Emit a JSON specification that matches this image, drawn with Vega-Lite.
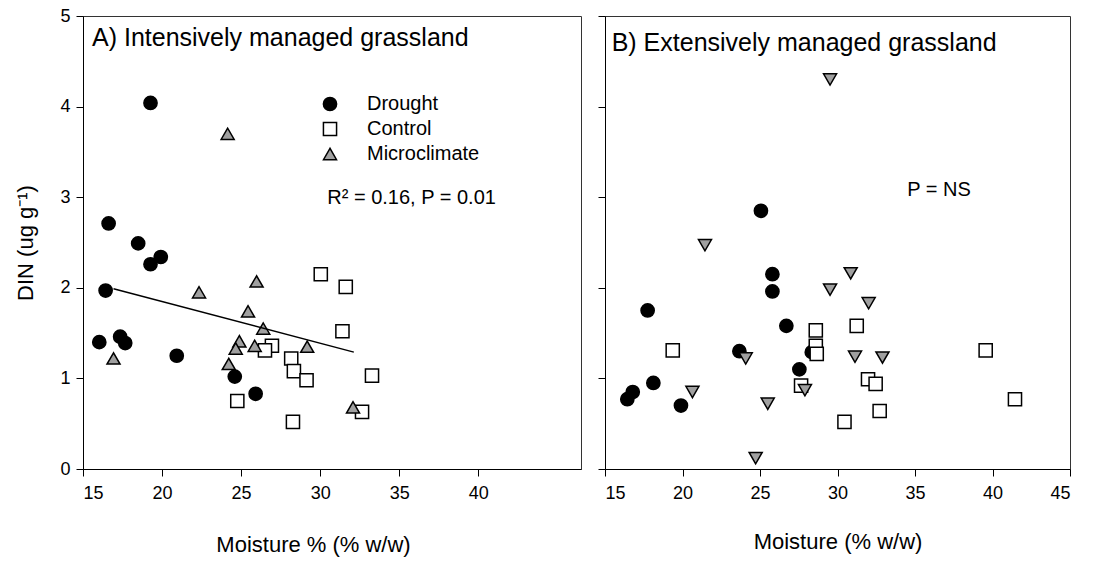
{
  "$schema": "https://vega.github.io/schema/vega-lite/v6.json",
  "background": "white",
  "padding": {"left": 14, "top": 6, "right": 5, "bottom": 2},
  "spacing": 15,
  "config": {
    "font": "Liberation Sans",
    "view": {"stroke": "#333333", "strokeWidth": 1},
    "axis": {
      "grid": false,
      "labelFont": "Liberation Sans",
      "labelFontSize": 18,
      "labelColor": "black",
      "tickColor": "black",
      "domainColor": "black",
      "tickSize": 7,
      "titleFont": "Liberation Sans",
      "titleFontSize": 22,
      "titleFontWeight": "normal",
      "titleColor": "black"
    }
  },
  "resolve": {"scale": {"shape": "independent", "fill": "independent", "size": "independent"}},
  "hconcat": [
    {
      "width": 498,
      "height": 453,
      "layer": [
        {
          "data": {"values": [
            {"x": 19.27, "y": 4.04, "treatment": "Drought"},
            {"x": 16.62, "y": 2.71, "treatment": "Drought"},
            {"x": 18.49, "y": 2.49, "treatment": "Drought"},
            {"x": 19.27, "y": 2.26, "treatment": "Drought"},
            {"x": 19.92, "y": 2.34, "treatment": "Drought"},
            {"x": 16.43, "y": 1.97, "treatment": "Drought"},
            {"x": 16.03, "y": 1.40, "treatment": "Drought"},
            {"x": 17.35, "y": 1.46, "treatment": "Drought"},
            {"x": 17.67, "y": 1.39, "treatment": "Drought"},
            {"x": 20.93, "y": 1.25, "treatment": "Drought"},
            {"x": 24.60, "y": 1.02, "treatment": "Drought"},
            {"x": 25.92, "y": 0.83, "treatment": "Drought"},
            {"x": 30.04, "y": 2.15, "treatment": "Control"},
            {"x": 31.62, "y": 2.01, "treatment": "Control"},
            {"x": 31.41, "y": 1.52, "treatment": "Control"},
            {"x": 26.95, "y": 1.36, "treatment": "Control"},
            {"x": 26.51, "y": 1.31, "treatment": "Control"},
            {"x": 28.17, "y": 1.22, "treatment": "Control"},
            {"x": 28.34, "y": 1.08, "treatment": "Control"},
            {"x": 29.14, "y": 0.98, "treatment": "Control"},
            {"x": 33.28, "y": 1.03, "treatment": "Control"},
            {"x": 24.76, "y": 0.75, "treatment": "Control"},
            {"x": 32.65, "y": 0.63, "treatment": "Control"},
            {"x": 28.28, "y": 0.52, "treatment": "Control"},
            {"x": 24.15, "y": 3.70, "treatment": "Microclimate"},
            {"x": 25.98, "y": 2.07, "treatment": "Microclimate"},
            {"x": 22.34, "y": 1.95, "treatment": "Microclimate"},
            {"x": 25.44, "y": 1.74, "treatment": "Microclimate"},
            {"x": 26.40, "y": 1.55, "treatment": "Microclimate"},
            {"x": 24.89, "y": 1.41, "treatment": "Microclimate"},
            {"x": 24.66, "y": 1.33, "treatment": "Microclimate"},
            {"x": 25.86, "y": 1.36, "treatment": "Microclimate"},
            {"x": 29.18, "y": 1.35, "treatment": "Microclimate"},
            {"x": 16.93, "y": 1.22, "treatment": "Microclimate"},
            {"x": 24.22, "y": 1.16, "treatment": "Microclimate"},
            {"x": 32.08, "y": 0.68, "treatment": "Microclimate"}
          ]},
          "mark": {"type": "point", "filled": true, "stroke": "black", "strokeWidth": 1.5, "opacity": 1},
          "encoding": {
            "x": {"field": "x", "type": "quantitative", "scale": {"domain": [15, 46.5], "nice": false, "zero": false},
                  "axis": {"values": [15, 20, 25, 30, 35, 40], "format": "d", "title": "Moisture % (% w/w)", "labelPadding": 8, "titlePadding": 32, "titleX": 230}},
            "y": {"field": "y", "type": "quantitative", "scale": {"domain": [0, 5], "nice": false},
                  "axis": {"values": [0, 1, 2, 3, 4, 5], "format": "d", "title": "DIN (ug g⁻¹)", "labelPadding": 6, "titlePadding": 22}},
            "shape": {"field": "treatment", "type": "nominal",
                      "scale": {"domain": ["Drought", "Control", "Microclimate"], "range": ["circle", "square", "triangle-up"]},
                      "legend": {"orient": "none", "legendX": 237, "legendY": 78, "title": null, "labelFontSize": 20, "labelFont": "Liberation Sans", "labelColor": "black", "labelOffset": 27, "rowPadding": 5, "padding": 0,
                                 "encode": {"symbols": {"update": {"stroke": {"value": "black"}, "strokeWidth": {"value": 1.5}}}}}},
            "fill": {"field": "treatment", "type": "nominal",
                     "scale": {"domain": ["Drought", "Control", "Microclimate"], "range": ["black", "white", "#a0a0a0"]},
                     "legend": {"orient": "none", "legendX": 237, "legendY": 78, "title": null, "labelFontSize": 20, "labelFont": "Liberation Sans", "labelColor": "black", "labelOffset": 27, "rowPadding": 5, "padding": 0,
                                 "encode": {"symbols": {"update": {"stroke": {"value": "black"}, "strokeWidth": {"value": 1.5}}}}}},
            "size": {"field": "treatment", "type": "nominal",
                     "scale": {"domain": ["Drought", "Control", "Microclimate"], "range": [175, 170, 220]},
                     "legend": {"orient": "none", "legendX": 237, "legendY": 78, "title": null, "labelFontSize": 20, "labelFont": "Liberation Sans", "labelColor": "black", "labelOffset": 27, "rowPadding": 5, "padding": 0,
                                 "encode": {"symbols": {"update": {"stroke": {"value": "black"}, "strokeWidth": {"value": 1.5}}}}}}
          }
        },
        {
          "data": {"values": [{"x": 16.93, "y": 1.99}, {"x": 32.13, "y": 1.29}]},
          "mark": {"type": "line", "color": "black", "strokeWidth": 1.5},
          "encoding": {"x": {"field": "x", "type": "quantitative"}, "y": {"field": "y", "type": "quantitative"}}
        },
        {
          "data": {"values": [
            {"x": 15.57, "y": 4.67, "label": "A) Intensively managed grassland", "fs": 25},
            {"x": 30.45, "y": 2.92, "label": "R² = 0.16, P = 0.01", "fs": 20}
          ]},
          "mark": {"type": "text", "align": "left", "baseline": "alphabetic", "color": "black", "font": "Liberation Sans"},
          "encoding": {
            "x": {"field": "x", "type": "quantitative"},
            "y": {"field": "y", "type": "quantitative"},
            "text": {"field": "label"},
            "size": {"field": "fs", "type": "quantitative", "scale": null}
          }
        }
      ]
    },
    {
      "width": 465,
      "height": 453,
      "layer": [
        {
          "data": {"values": [
            {"x": 25.06, "y": 2.85, "treatment": "Drought"},
            {"x": 25.80, "y": 2.15, "treatment": "Drought"},
            {"x": 25.80, "y": 1.96, "treatment": "Drought"},
            {"x": 17.75, "y": 1.75, "treatment": "Drought"},
            {"x": 26.70, "y": 1.58, "treatment": "Drought"},
            {"x": 23.67, "y": 1.30, "treatment": "Drought"},
            {"x": 28.34, "y": 1.29, "treatment": "Drought"},
            {"x": 27.54, "y": 1.10, "treatment": "Drought"},
            {"x": 18.12, "y": 0.95, "treatment": "Drought"},
            {"x": 16.79, "y": 0.85, "treatment": "Drought"},
            {"x": 16.44, "y": 0.77, "treatment": "Drought"},
            {"x": 19.90, "y": 0.70, "treatment": "Drought"},
            {"x": 28.60, "y": 1.53, "treatment": "Control"},
            {"x": 31.24, "y": 1.58, "treatment": "Control"},
            {"x": 19.37, "y": 1.31, "treatment": "Control"},
            {"x": 28.60, "y": 1.36, "treatment": "Control"},
            {"x": 28.66, "y": 1.27, "treatment": "Control"},
            {"x": 39.56, "y": 1.31, "treatment": "Control"},
            {"x": 27.65, "y": 0.92, "treatment": "Control"},
            {"x": 31.97, "y": 0.99, "treatment": "Control"},
            {"x": 32.46, "y": 0.94, "treatment": "Control"},
            {"x": 41.45, "y": 0.77, "treatment": "Control"},
            {"x": 32.72, "y": 0.64, "treatment": "Control"},
            {"x": 30.45, "y": 0.52, "treatment": "Control"},
            {"x": 29.52, "y": 4.30, "treatment": "Microclimate"},
            {"x": 21.45, "y": 2.47, "treatment": "Microclimate"},
            {"x": 30.85, "y": 2.16, "treatment": "Microclimate"},
            {"x": 29.52, "y": 1.98, "treatment": "Microclimate"},
            {"x": 32.01, "y": 1.83, "treatment": "Microclimate"},
            {"x": 24.08, "y": 1.22, "treatment": "Microclimate"},
            {"x": 31.13, "y": 1.24, "treatment": "Microclimate"},
            {"x": 32.90, "y": 1.23, "treatment": "Microclimate"},
            {"x": 20.64, "y": 0.85, "treatment": "Microclimate"},
            {"x": 27.90, "y": 0.87, "treatment": "Microclimate"},
            {"x": 25.50, "y": 0.72, "treatment": "Microclimate"},
            {"x": 24.72, "y": 0.12, "treatment": "Microclimate"}
          ]},
          "mark": {"type": "point", "filled": true, "stroke": "black", "strokeWidth": 1.5, "opacity": 1},
          "encoding": {
            "x": {"field": "x", "type": "quantitative", "scale": {"domain": [15, 45], "nice": false, "zero": false},
                  "axis": {"values": [15, 20, 25, 30, 35, 40, 45], "format": "d", "title": "Moisture (% w/w)", "labelPadding": 8, "titlePadding": 29}},
            "y": {"field": "y", "type": "quantitative", "scale": {"domain": [0, 5], "nice": false},
                  "axis": {"values": [0, 1, 2, 3, 4, 5], "title": null, "labels": false}},
            "shape": {"field": "treatment", "type": "nominal",
                      "scale": {"domain": ["Drought", "Control", "Microclimate"], "range": ["circle", "square", "triangle-down"]},
                      "legend": null},
            "fill": {"field": "treatment", "type": "nominal",
                     "scale": {"domain": ["Drought", "Control", "Microclimate"], "range": ["black", "white", "#a0a0a0"]},
                     "legend": null},
            "size": {"field": "treatment", "type": "nominal",
                     "scale": {"domain": ["Drought", "Control", "Microclimate"], "range": [175, 170, 220]},
                     "legend": null}
          }
        },
        {
          "data": {"values": [
            {"x": 15.43, "y": 4.61, "label": "B) Extensively managed grassland", "fs": 25},
            {"x": 34.5, "y": 3.01, "label": "P = NS", "fs": 20}
          ]},
          "mark": {"type": "text", "align": "left", "baseline": "alphabetic", "color": "black", "font": "Liberation Sans"},
          "encoding": {
            "x": {"field": "x", "type": "quantitative"},
            "y": {"field": "y", "type": "quantitative"},
            "text": {"field": "label"},
            "size": {"field": "fs", "type": "quantitative", "scale": null}
          }
        }
      ]
    }
  ]
}
